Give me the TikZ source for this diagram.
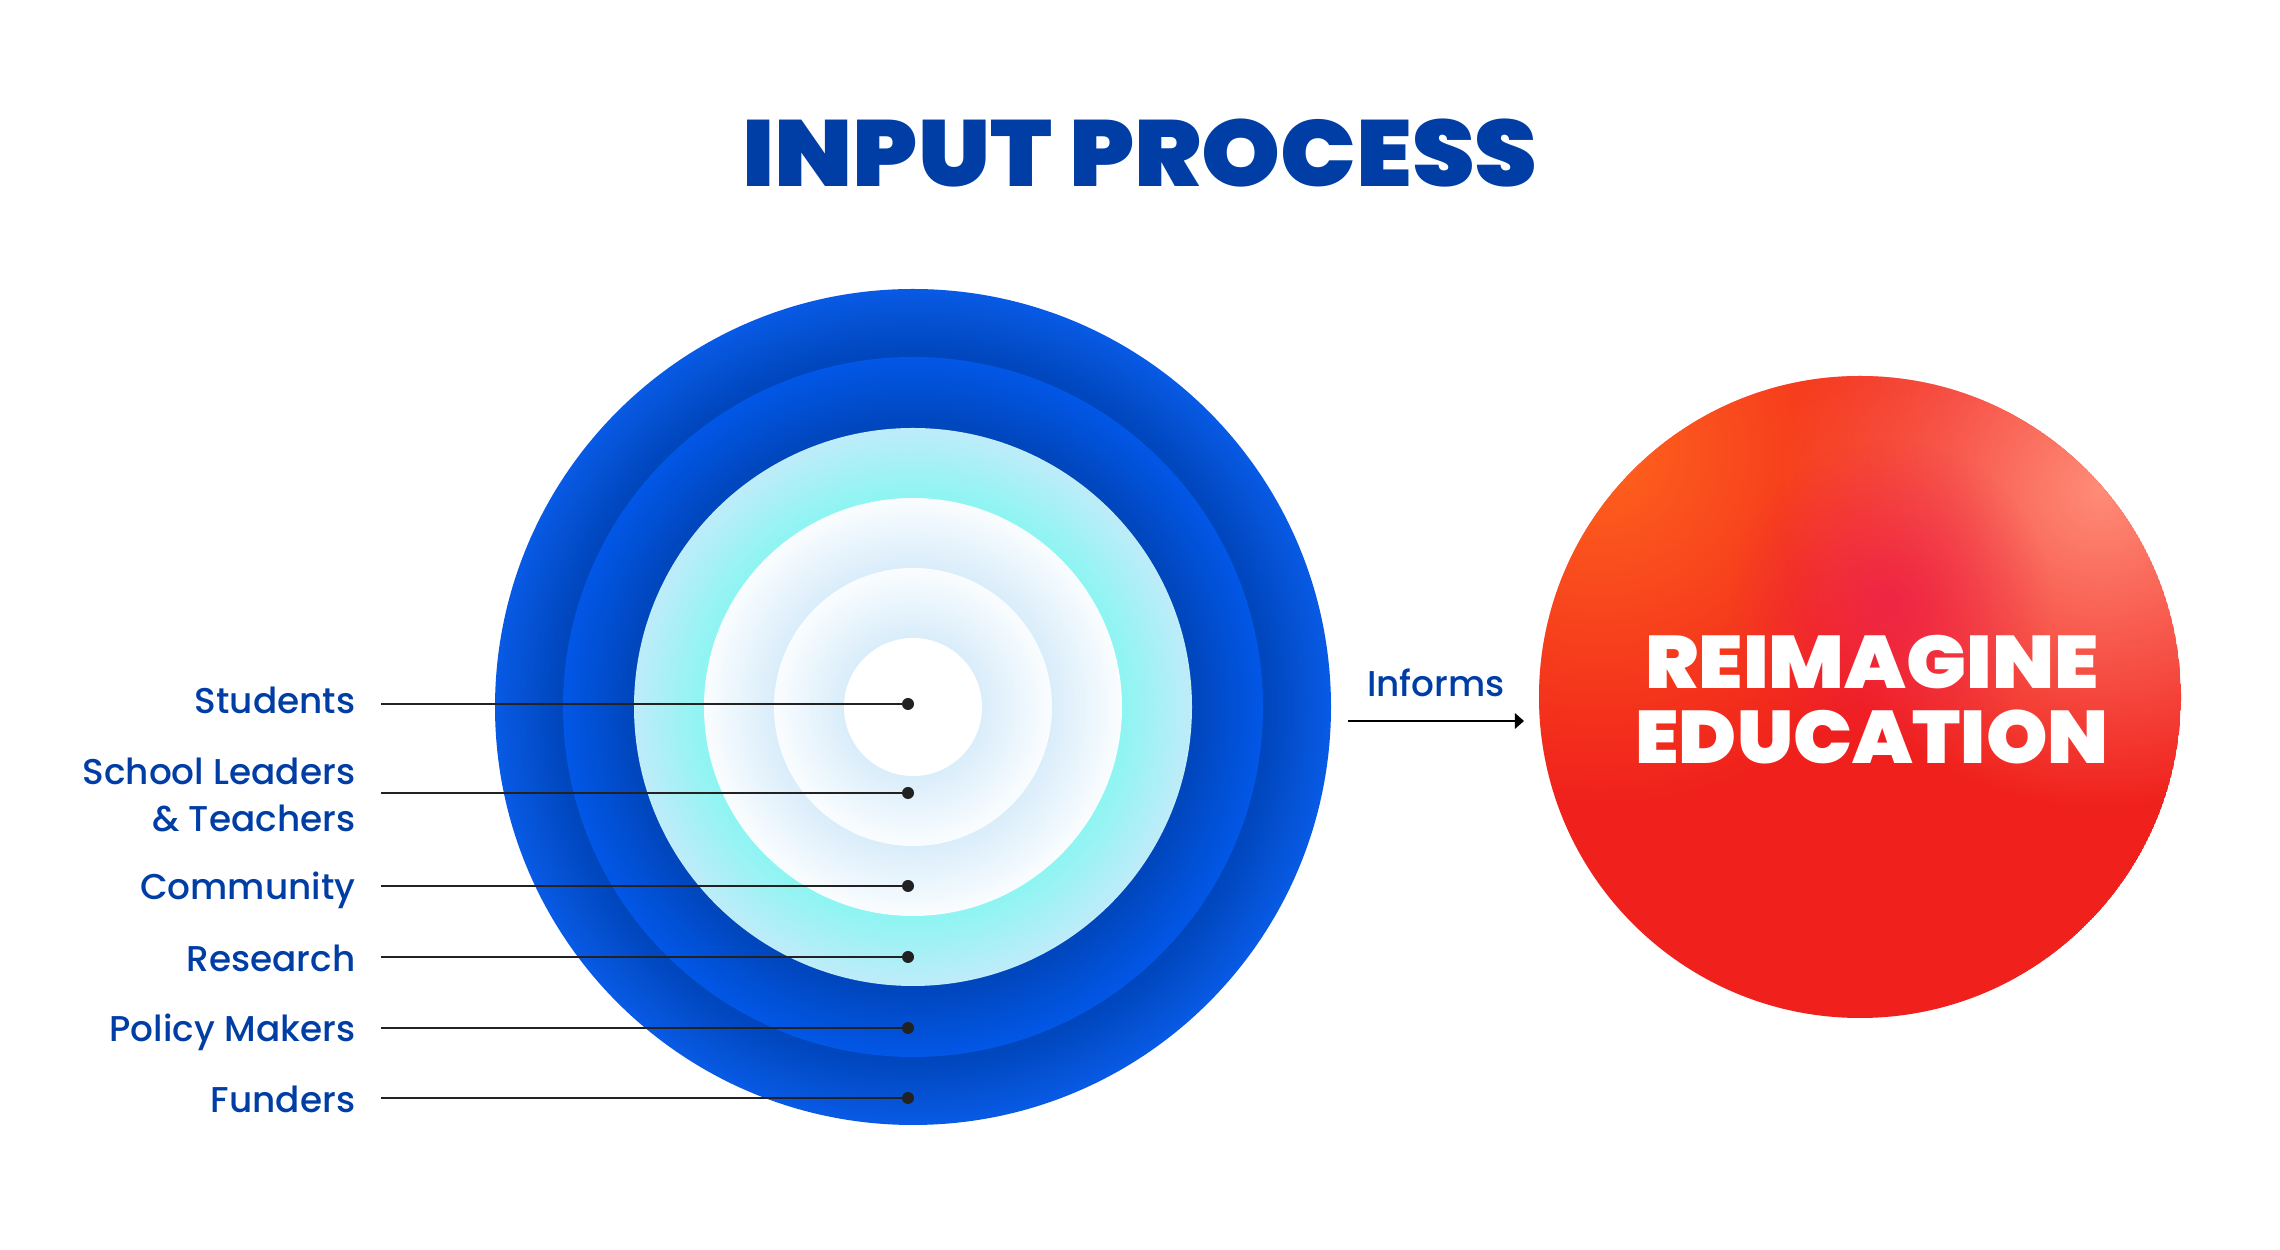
\documentclass[tikz,border=0pt]{standalone}
\usepackage{fontspec}
\setmainfont{Poppins Medium}
\newfontfamily\heavyfont{Poppins Black}
\usepackage{tikz}
\usetikzlibrary{arrows.meta,fadings}
\definecolor{figblue}{RGB}{0,62,165}
\definecolor{figline}{RGB}{34,34,34}
\definecolor{ringdk}{RGB}{0,70,188}
\definecolor{ringlt}{RGB}{8,90,228}
\definecolor{ringmd}{RGB}{2,87,230}
\definecolor{cyanlt}{RGB}{190,236,249}
\definecolor{cyandk}{RGB}{142,245,242}
\definecolor{icelt}{RGB}{250,253,255}
\definecolor{icedk}{RGB}{218,237,250}
\definecolor{redbase}{RGB}{240,32,28}
\definecolor{redorange}{RGB}{255,100,30}
\definecolor{redsalmon}{RGB}{255,140,120}
\definecolor{redhot}{RGB}{238,30,72}
% one ring as a stack of filled circles: outer radius, inner radius, outer colour, inner colour
\newcommand{\ringband}[4]{%
  \foreach \k in {0,...,29}{%
    \pgfmathsetmacro{\rr}{#1-\k*(#1-#2)/30}%
    \pgfmathsetmacro{\pp}{100-\k*100/29}%
    \fill[#3!\pp!#4] (hub) circle (\rr);
  }}
\tikzfading[name=blob, inner color=transparent!0, outer color=transparent!100]
\tikzset{
  ttl/.style  ={font=\heavyfont\fontsize{26.7}{30}\selectfont, text=figblue, inner sep=0pt},
  lab/.style  ={font=\fontsize{10.2}{13.4}\selectfont, text=figblue, inner sep=0pt, anchor=base east, align=right},
  link/.style ={draw=figline, line width=0.8pt},
  dot/.style  ={circle, fill=figline, inner sep=0pt, minimum size=1.2mm},
  ptr/.style  ={draw=black, line width=0.8pt, -{Triangle[length=2.6pt,width=4.4pt]}},
  goaltxt/.style={font=\heavyfont\fontsize{21.2}{21.4}\selectfont, text=white, align=center, inner sep=0pt},
}
\begin{document}
\begin{tikzpicture}
  \useasboundingbox (0,0) rectangle (22.8,12.5);
  \node[ttl] (title) at (11.40,10.965) {\scalebox{1.07}[1]{INPUT PROCESS}};
  % target rings
  \coordinate (hub) at (9.13,5.43);
  \ringband{4.18}{3.50}{ringlt}{ringdk}
  \ringband{3.50}{2.79}{ringmd}{ringdk}
  \ringband{2.79}{2.09}{cyanlt}{cyandk}
  \ringband{2.09}{1.39}{icelt}{icedk}
  \ringband{1.39}{0.69}{icelt}{icedk}
  \fill[white] (hub) circle (0.69);
  % dots
  \node[dot] (d1) at (9.08,5.46) {};
  \node[dot] (d2) at (9.08,4.57) {};
  \node[dot] (d3) at (9.08,3.64) {};
  \node[dot] (d4) at (9.08,2.93) {};
  \node[dot] (d5) at (9.08,2.22) {};
  \node[dot] (d6) at (9.08,1.52) {};
  % labels
  \node[lab] (students)  at (3.56,5.36) {Students};
  \node[lab] (leaders)   at (3.56,4.18) {School Leaders\\\& Teachers};
  \node[lab] (community) at (3.56,3.50) {Community};
  \node[lab] (research)  at (3.56,2.78) {Research};
  \node[lab] (policy)    at (3.56,2.08) {Policy Makers};
  \node[lab] (funders)   at (3.56,1.37) {Funders};
  \draw[link] ([xshift=2.5mm]d1 -| students.east) -- (d1.center);
  \draw[link] ([xshift=2.5mm]d2 -| leaders.east) -- (d2.center);
  \draw[link] ([xshift=2.5mm]d3 -| community.east) -- (d3.center);
  \draw[link] ([xshift=2.5mm]d4 -| research.east) -- (d4.center);
  \draw[link] ([xshift=2.5mm]d5 -| policy.east) -- (d5.center);
  \draw[link] ([xshift=2.5mm]d6 -| funders.east) -- (d6.center);
  % informs
  \node[font=\fontsize{10.2}{12}\selectfont, text=figblue, inner sep=0pt, anchor=base] (informs) at (14.36,5.53) {Informs};
  \coordinate (a0) at (13.48,5.29);
  \coordinate (a1) at (15.24,5.29);
  \draw[ptr] (a0) -- (a1);
  % goal
  \node[circle, inner sep=0pt, minimum size=6.42cm] (goal) at (18.60,5.53) {};
  \begin{scope}
    \clip (goal.center) circle (3.21);
    \fill[redbase] (goal.center) circle (3.21);
    \fill[redorange, path fading=blob] (16.0,8.0) circle (3.6);
    \fill[redsalmon, path fading=blob] (21.0,7.6) circle (3.2);
    \fill[redhot, path fading=blob, fill opacity=0.8] (18.9,6.5) circle (1.6);
  \end{scope}
  \node[goaltxt] (goaltext) at (18.72,5.505) {\scalebox{1.07}[1]{REIMAGINE}\\\scalebox{1.05}[1]{EDUCATION}};
\end{tikzpicture}
\end{document}
